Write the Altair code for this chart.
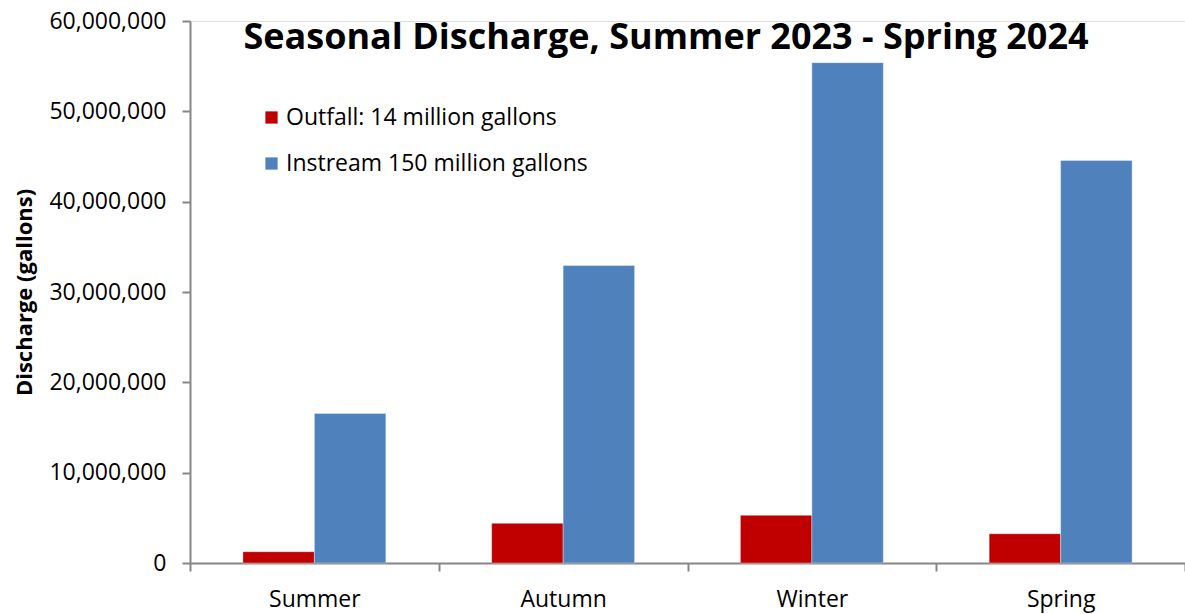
import altair as alt
import pandas as pd

# Seasonal discharge totals (gallons)
seasons = ["Summer", "Autumn", "Winter", "Spring"]
series_names = ["Outfall: 14 million gallons", "Instream 150 million gallons"]
outfall = [1_250_000, 4_390_000, 5_280_000, 3_240_000]
instream = [16_560_000, 32_930_000, 55_390_000, 44_550_000]
series_colors = ["#C00000", "#4F81BD"]
y_ticks = [0, 10_000_000, 20_000_000, 30_000_000, 40_000_000, 50_000_000, 60_000_000]
title_text = "Seasonal Discharge, Summer 2023 - Spring 2024"

rows = []
for s, o, i in zip(seasons, outfall, instream):
    rows.append({"season": s, "series": series_names[0], "value": o})
    rows.append({"season": s, "series": series_names[1], "value": i})
df = pd.DataFrame(rows)

FONT = "Open Sans"
AXIS_GREY = "#868686"
W, H = 995, 542

# Each season gets a full-width band so the ticks fall between categories;
# the bar pair is pulled toward the middle of the band by the offset scale.
x_enc = alt.X(
    "season:N",
    sort=seasons,
    scale=alt.Scale(paddingInner=0, paddingOuter=0),
    axis=alt.Axis(
        title=None,
        labelAngle=0,
        labelFont=FONT,
        labelFontSize=23,
        labelColor="#000000",
        labelPadding=17,
        tickBand="extent",
        tickSize=8,
        tickColor=AXIS_GREY,
        tickWidth=2,
        domainColor=AXIS_GREY,
        domainWidth=2,
    ),
)

bars = alt.Chart(df).mark_bar(stroke="#FFFFFF", strokeWidth=0.6, strokeOpacity=0.6).encode(
    x=x_enc,
    xOffset=alt.XOffset(
        "series:N", sort=series_names, scale=alt.Scale(paddingInner=0, paddingOuter=0.74)
    ),
    y=alt.Y(
        "value:Q",
        scale=alt.Scale(domain=[0, 60_000_000], nice=False),
        axis=alt.Axis(
            title="Discharge (gallons)",
            titleFont=FONT,
            titleFontSize=22,
            titleFontWeight="bold",
            titleColor="#000000",
            titlePadding=12,
            values=y_ticks,
            format=",d",
            labelFont=FONT,
            labelFontSize=23,
            labelColor="#000000",
            labelPadding=16,
            tickSize=8,
            tickColor=AXIS_GREY,
            tickWidth=2,
            domainColor=AXIS_GREY,
            domainWidth=2,
            grid=False,
        ),
    ),
    color=alt.Color(
        "series:N",
        sort=series_names,
        scale=alt.Scale(domain=series_names, range=series_colors),
        legend=alt.Legend(
            title=None,
            orient="none",
            legendX=70,
            legendY=85,
            symbolType="square",
            symbolSize=150,
            symbolStrokeWidth=0,
            labelFont=FONT,
            labelFontSize=23,
            labelColor="#000000",
            labelOffset=3,
            rowPadding=22,
            labelLimit=500,
        ),
    ),
)

title = alt.Chart(pd.DataFrame({"t": [title_text]})).mark_text(
    font=FONT, fontSize=36, fontWeight="bold", color="#000000", align="center", baseline="alphabetic"
).encode(x=alt.value(476), y=alt.value(28), text="t:N")

chart = alt.layer(bars, title).properties(
    width=W,
    height=H,
    padding={"left": 190, "top": 21, "right": 0, "bottom": 51},
    autosize=alt.AutoSizeParams(type="none"),
).configure_view(stroke=None).configure(background="#FFFFFF")

chart.save("out.html", embed_options={"renderer": "svg", "actions": False})
